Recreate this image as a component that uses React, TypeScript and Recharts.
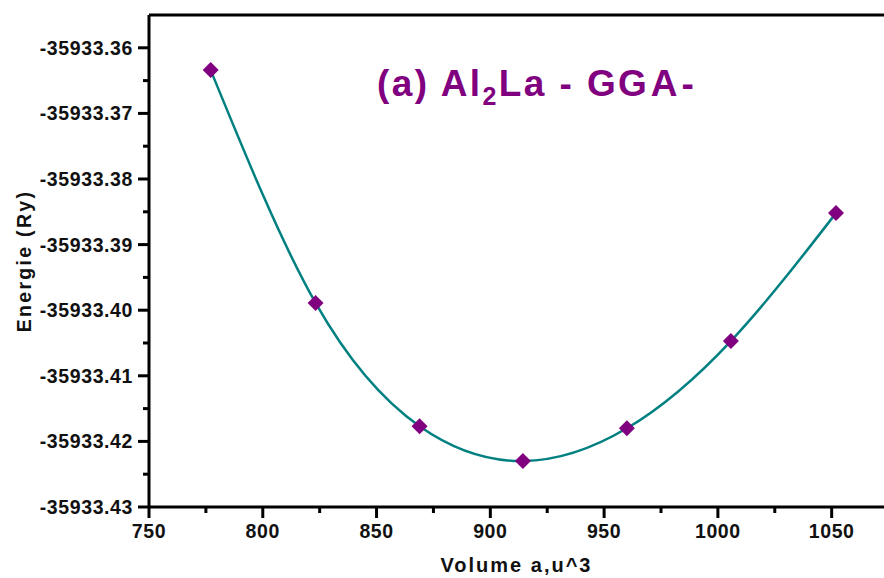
import React from "react"
import { ComposedChart, Line, Scatter, XAxis, YAxis, Label } from "recharts"

// E(V) points for Al2La (GGA)
const volumes = [777.1, 823.2, 868.9, 914.3, 960.0, 1005.7, 1051.9]
const energies = [-35933.3634, -35933.3989, -35933.4177, -35933.423, -35933.418, -35933.4047, -35933.3852]

const xTicks = [750, 775, 800, 825, 850, 875, 900, 925, 950, 975, 1000, 1025, 1050]
const xMajor = [750, 800, 850, 900, 950, 1000, 1050]
const yTicks = [
  -35933.43, -35933.425, -35933.42, -35933.415, -35933.41, -35933.405, -35933.4, -35933.395,
  -35933.39, -35933.385, -35933.38, -35933.375, -35933.37, -35933.365, -35933.36,
]
const yMajor = [-35933.43, -35933.42, -35933.41, -35933.4, -35933.39, -35933.38, -35933.37, -35933.36]

const data = volumes.map((v, i) => ({ v, e: energies[i] }))

const FONT = "'Liberation Sans', Arial, sans-serif"
const MAJOR = 11
const MINOR = 6
const MARGIN = 5

const isMajor = (list: number[], value: number) => list.some((m) => Math.abs(m - value) < 1e-6)

const YTick = (props: any) => {
  const { x, y, payload } = props
  const major = isMajor(yMajor, payload.value)
  const axisX = x + MARGIN + MAJOR
  return (
    <g>
      <line x1={axisX - (major ? MAJOR : MINOR)} x2={axisX} y1={y} y2={y} stroke="#000" strokeWidth={3} />
      {major && (
        <text
          x={x}
          y={y}
          dy={7}
          textAnchor="end"
          fontFamily={FONT}
          fontWeight="bold"
          fontSize={19.5}
          letterSpacing={0.6}
          fill="#111"
        >
          {payload.value.toFixed(2)}
        </text>
      )}
    </g>
  )
}

const XTick = (props: any) => {
  const { x, y, payload } = props
  const major = isMajor(xMajor, payload.value)
  const axisY = y - MARGIN - MAJOR
  return (
    <g>
      <line x1={x} x2={x} y1={axisY} y2={axisY + (major ? MAJOR : MINOR)} stroke="#000" strokeWidth={3} />
      {major && (
        <text
          x={x}
          y={y}
          dy={15}
          textAnchor="middle"
          fontFamily={FONT}
          fontWeight="bold"
          fontSize={19.5}
          letterSpacing={0.6}
          fill="#111"
        >
          {payload.value}
        </text>
      )}
    </g>
  )
}

const Diamond = (props: any) => {
  const { cx, cy } = props
  return <polygon points={`${cx},${cy - 8} ${cx + 8},${cy} ${cx},${cy + 8} ${cx - 8},${cy}`} fill="#800080" />
}

export default function App() {
  return (
    <div style={{ position: "absolute", left: 0, top: 0, width: 884, height: 578, background: "#fff" }}>
      <ComposedChart width={884} height={578} data={data} margin={{ top: 14, right: 0, bottom: 0, left: 0 }}>
        <XAxis
          xAxisId="top"
          orientation="top"
          type="number"
          dataKey="v"
          domain={[750, 1073]}
          allowDataOverflow
          height={1}
          tick={false}
          tickLine={false}
          axisLine={{ stroke: "#000", strokeWidth: 3 }}
        />
        <XAxis
          type="number"
          dataKey="v"
          domain={[750, 1073]}
          allowDataOverflow
          ticks={xTicks}
          interval={0}
          tick={<XTick />}
          tickLine={false}
          tickSize={MAJOR}
          tickMargin={MARGIN}
          height={71}
          axisLine={{ stroke: "#000", strokeWidth: 3 }}
        >
          <Label
            value="Volume a,u^3"
            position="insideBottom"
            offset={6}
            style={{ fontFamily: FONT, fontWeight: "bold", fontSize: 20, letterSpacing: 2, fill: "#111" }}
          />
        </XAxis>
        <YAxis
          type="number"
          domain={[-35933.43, -35933.355]}
          allowDataOverflow
          ticks={yTicks}
          interval={0}
          tick={<YTick />}
          tickLine={false}
          tickSize={MAJOR}
          tickMargin={MARGIN}
          width={149}
          axisLine={{ stroke: "#000", strokeWidth: 3 }}
        >
          <Label
            value="Energie (Ry)"
            angle={-90}
            position="insideLeft"
            offset={24}
            style={{
              fontFamily: FONT,
              fontWeight: "bold",
              fontSize: 19.5,
              letterSpacing: 2.3,
              fill: "#111",
              textAnchor: "middle",
            }}
          />
        </YAxis>
        <Line
          dataKey="e"
          type="natural"
          stroke="#008080"
          strokeWidth={2.5}
          dot={false}
          activeDot={false}
          isAnimationActive={false}
        />
        <Scatter dataKey="e" shape={<Diamond />} isAnimationActive={false} />
      </ComposedChart>
      <div
        style={{
          position: "absolute",
          left: 377,
          top: 62,
          fontFamily: FONT,
          fontWeight: "bold",
          fontSize: 37,
          letterSpacing: 2.4,
          color: "#800080",
          whiteSpace: "nowrap",
          lineHeight: "44px",
        }}
      >
        (a) Al<sub style={{ fontSize: 25, verticalAlign: "-9px", lineHeight: 0 }}>2</sub>La - G<span style={{ letterSpacing: 4 }}>GA</span>-
      </div>
    </div>
  )
}
